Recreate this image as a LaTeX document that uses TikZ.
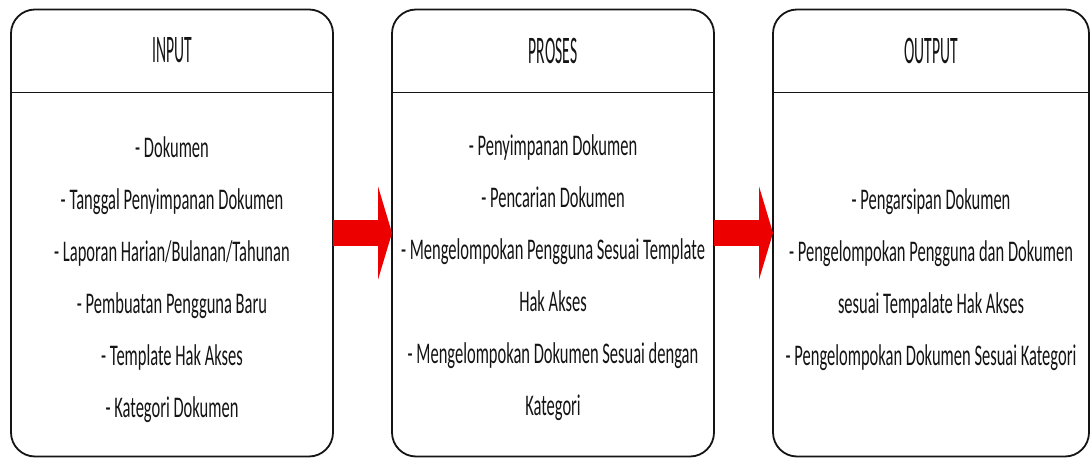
\documentclass[tikz,border=0pt]{standalone}
\usepackage{fontspec}
\setmainfont{Carlito}
\newfontfamily\headfont[FakeStretch=0.40]{Carlito}
\newfontfamily\bodyfont[FakeStretch=0.55]{Carlito}
\usetikzlibrary{arrows.meta, calc, positioning}
\definecolor{ink}{RGB}{20,20,20}
\definecolor{flowred}{RGB}{236,0,0}

\begin{document}
\begin{tikzpicture}[x=1pt, y=1pt,
    box/.style={draw=ink, line width=1.8pt, rounded corners=24pt, outer sep=0pt,
        minimum width=322pt, minimum height=447pt, inner sep=0pt},
    head/.style={text=ink, font=\headfont\fontsize{39}{42}\selectfont},
    items/.style={text=ink, align=center, font=\bodyfont\fontsize{30}{52}\selectfont},
    flow/.style={flowred, line width=26pt, -{Triangle[length=14pt, width=93pt]}}]
    \useasboundingbox (0, 0) rectangle (1091, 463);

    \node[box] (input) at (172, 230) {};
    \node[box] (proses) at (553, 230) {};
    \node[box, minimum width=316pt] (output) at (931, 230) {};

    \foreach \b in {input, proses, output}
        \draw[ink, line width=1.8pt] ($(\b.north west)+(0,-83)$) -- ($(\b.north east)+(0,-83)$);

    \node[head] (inputhead) at ($(input.north)+(0,-41)$) {INPUT};
    \node[head] (proseshead) at ($(proses.north)+(0,-41)$) {PROSES};
    \node[head] (outputhead) at ($(output.north)+(0,-41)$) {OUTPUT};

    \node[items] (inputlist) at ($(input.center)+(0,-47)$)
        {- Dokumen\\ - Tanggal Penyimpanan Dokumen\\ - Laporan Harian/Bulanan/Tahunan\\
         - Pembuatan Pengguna Baru\\ - Template Hak Akses\\ - Kategori Dokumen};
    \node[items] (proseslist) at ($(proses.center)+(0,-45)$)
        {- Penyimpanan Dokumen\\ - Pencarian Dokumen\\ - Mengelompokan Pengguna Sesuai Template\\
         Hak Akses\\ - Mengelompokan Dokumen Sesuai dengan\\ Kategori};
    \node[items] (outputlist) at ($(output.center)+(0,-47)$)
        {- Pengarsipan Dokumen\\ - Pengelompokan Pengguna dan Dokumen\\
         sesuai Tempalate Hak Akses\\ - Pengelompokan Dokumen Sesuai Kategori};

    \draw[flow] (input) -- (proses);
    \draw[flow] (proses) -- (output);
\end{tikzpicture}
\end{document}
